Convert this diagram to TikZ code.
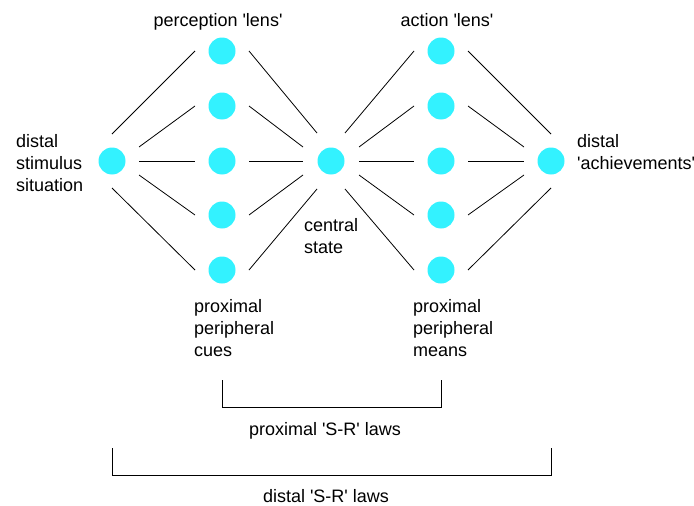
\documentclass[tikz,border=0pt]{standalone}
\usepackage{fontspec}
\setmainfont{Liberation Sans}
\usetikzlibrary{calc}
\definecolor{dotcyan}{RGB}{51,242,255}
\newcommand{\sq}{\textquotesingle}
\begin{document}
\begin{tikzpicture}[x=1pt,y=-1pt,
  dot/.style={circle,fill=dotcyan,minimum size=27pt,inner sep=0pt},
  link/.style={line width=0.8pt},
  lbl/.style={font=\fontsize{18}{22}\selectfont,inner sep=0pt,align=left}]
\useasboundingbox (0,0) rectangle (694,506);
\node[dot] (L) at (112,161) {};
\node[dot] (C) at (331,161) {};
\node[dot] (R) at (551,161) {};
\foreach \i/\y in {1/51,2/106,3/161,4/215,5/270}{
  \node[dot] (P\i) at (222,\y) {};
  \node[dot] (A\i) at (441,\y) {};
}
\foreach \i/\lx/\ly/\cx/\cy/\dx/\rx in {1/0/-27/-14/-28/14/0, 2/27/-14/-28/-14/28/-27, 3/27/0/-28/0/28/-27, 4/27/14/-28/14/28/-27, 5/0/27/-14/28/14/0}{
  \draw[link] ($(L)+(\lx,\ly)$) -- ($(P\i)+(-27,0)$);
  \draw[link] ($(P\i)+(27,0)$) -- ($(C)+(\cx,\cy)$);
  \draw[link] ($(C)+(\dx,\cy)$) -- ($(A\i)+(-27,0)$);
  \draw[link] ($(A\i)+(27,0)$) -- ($(R)+(\rx,\ly)$);
}
\node[lbl,anchor=base] (tp) at (218,26) {perception \sq lens\sq};
\node[lbl,anchor=base] (ta) at (447,26) {action \sq lens\sq};
\node[lbl,anchor=base west] (tl) at (16,191) {distal\\stimulus\\situation};
\node[lbl,anchor=base west] (tr) at (577,169) {distal\\\sq achievements\sq};
\node[lbl,anchor=base west] (tc) at (304,253) {central\\state};
\node[lbl,anchor=base west] (tcues) at (194,356) {proximal\\peripheral\\cues};
\node[lbl,anchor=base west] (tmeans) at (413,356) {proximal\\peripheral\\means};
\coordinate (b1a) at (222,380);
\coordinate (b1b) at (222,407);
\coordinate (b1c) at (441,407);
\coordinate (b1d) at (441,380);
\draw[link] (b1a) -- (b1b) -- (b1c) -- (b1d);
\node[lbl,anchor=base] (tprox) at (325,435) {proximal \sq S-R\sq{} laws};
\coordinate (b2a) at (112,448);
\coordinate (b2b) at (112,475);
\coordinate (b2c) at (551,475);
\coordinate (b2d) at (551,448);
\draw[link] (b2a) -- (b2b) -- (b2c) -- (b2d);
\node[lbl,anchor=base] (tdist) at (326,502) {distal \sq S-R\sq{} laws};
\end{tikzpicture}
\end{document}
